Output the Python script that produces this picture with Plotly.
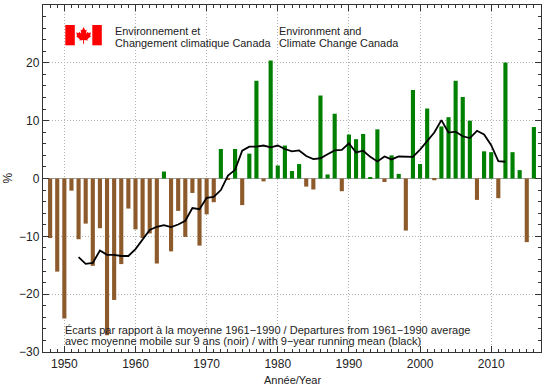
import plotly.graph_objects as go

years = list(range(1948, 2017))
departures = [-10.3, -16.1, -24.2, -2.1, -10.5, -7.8, -15.1, -8.6, -27.1, -21.0, -14.8, -5.2,
              -8.8, -10.3, -9.5, -14.7, 1.2, -12.6, -5.6, -10.1, -2.5, -11.6, -6.2, -4.1,
              5.1, -0.1, 5.1, -4.6, 4.3, 16.9, -0.5, 20.4, 2.25, 5.7, 1.3, 2.5, -1.4, -1.9,
              14.35, 0.7, 11.2, -2.2, 7.6, 6.8, 7.7, 0.25, 8.5, -0.6, 4.0, 0.8, -9.0, 15.3,
              2.5, 12.1, -0.3, 9.0, 10.6, 16.9, 14.1, 10.0, -3.7, 4.7, 4.55, -3.4, 20.05,
              4.55, 1.45, -11.0, 8.9]
mean_years = list(range(1952, 2013))
running_mean = [-13.6, -14.75, -14.6, -12.45, -13.2, -13.2, -13.4, -13.4, -12.2, -10.5, -8.9,
                -8.35, -8.05, -8.4, -7.95, -7.3, -5.1, -5.3, -3.35, -3.2, -2.0, 0.5, 1.5, 4.8,
                5.5, 5.5, 5.7, 5.4, 5.7, 5.1, 4.7, 4.85, 3.9, 3.35, 3.5, 4.2, 4.85, 4.95, 6.1,
                4.5, 4.8, 3.75, 2.95, 3.8, 3.3, 3.8, 3.75, 3.75, 5.0, 6.45, 7.95, 10.1, 7.95,
                8.1, 7.3, 7.0, 8.25, 7.6, 5.75, 3.0, 2.9]
y_ticks = [-30, -20, -10, 0, 10, 20, 30]
y_labels = ["\u221230", "\u221220", "\u221210", "0", "10", "20", "30"]
x_ticks = [1950, 1960, 1970, 1980, 1990, 2000, 2010]
x_minor_ticks = list(range(1948, 2017))
y_minor_ticks = list(range(-30, 31, 2))

W, H = 544, 385
L, R, T, B = 43, 541, 5, 352
FONT = "Liberation Sans, Arial, sans-serif"
TXT = "#222222"
AXC = "#333333"


def px(x):
    return (x - L) / (R - L)


def py(y):
    return (B - y) / (B - T)


fig = go.Figure()
fig.add_bar(x=years, y=departures, width=0.58,
            marker=dict(color=["#008000" if v >= 0 else "#8c5a2b" for v in departures],
                        line=dict(width=0)))
fig.add_scatter(x=mean_years, y=running_mean, mode="lines",
                line=dict(color="black", width=1.8))

axis = dict(showline=True, linecolor=AXC, linewidth=1.3, mirror="allticks", ticks="inside",
            ticklen=6, tickcolor=AXC, tickwidth=1.2, showgrid=True, gridcolor="#b0b0b0",
            griddash="1px,2px", gridwidth=1, tickfont=dict(family=FONT, size=12, color=TXT),
            automargin=False)
fig.update_layout(
    width=W, height=H, margin=dict(l=L, r=W - R, t=T, b=H - B),
    paper_bgcolor="white", plot_bgcolor="white", showlegend=False,
    font=dict(family=FONT, color=TXT),
    xaxis=dict(axis, range=[1947, 2017], tickvals=x_ticks, zeroline=False,
               minor=dict(tickvals=x_minor_ticks, ticks="inside", ticklen=3,
                          tickcolor=AXC, tickwidth=1, showgrid=False)),
    yaxis=dict(axis, range=[-30, 30], tickvals=y_ticks, ticktext=y_labels,
               zeroline=True, zerolinecolor="#a0a0a0", zerolinewidth=1.2,
               minor=dict(tickvals=y_minor_ticks, ticks="inside", ticklen=3,
                          tickcolor=AXC, tickwidth=1, showgrid=False)),
)

notes = [
    (115, 31, 10.9, "Environnement et"),
    (115, 43, 10.9, "Changement climatique Canada"),
    (279, 31, 10.9, "Environment and"),
    (279, 43, 10.9, "Climate Change Canada"),
    (65, 329.5, 11, "Écarts par rapport à la moyenne 1961\u22121990 / Departures from 1961\u22121990 average"),
    (65, 341, 11, "avec moyenne mobile sur 9 ans (noir) / with 9\u2212year running mean (black)"),
    (292, 380, 11, "Année/Year"),
]
for x, y, s, t in notes:
    fig.add_annotation(x=px(x), y=py(y), xref="paper", yref="paper", text=t, showarrow=False,
                       xanchor="center" if t.startswith("Ann") else "left", yanchor="middle",
                       font=dict(family=FONT, size=s, color=TXT), borderpad=0, borderwidth=0)
fig.add_annotation(x=px(7), y=py(178.5), xref="paper", yref="paper", text="%", showarrow=False,
                   xanchor="center", yanchor="middle",
                   textangle=-90, font=dict(family=FONT, size=12, color=TXT), borderpad=0)

# flag
RED = "#ff0000"
for a, b in [(65.3, 74.8), (92.3, 101.8)]:
    fig.add_shape(type="rect", xref="paper", yref="paper", x0=px(a), x1=px(b), y0=py(25), y1=py(45.3),
                  fillcolor=RED, line_width=0, layer="above")
half = [(0, -8.2), (1.6, -5), (3, -5.8), (2.4, -1.5), (4.2, -3.4), (4.8, -2.2), (7.4, -2.6),
        (6.5, 0.3), (7.4, 1), (3.8, 4), (4.2, 5.3), (0.5, 4.7), (0.5, 8.5)]
pts = half + [(-a, b) for a, b in reversed(half)]
cx, cy = 83.6, 35.2
path = "M" + " L".join(f"{px(cx + a):.5f},{py(cy + b):.5f}" for a, b in pts) + " Z"
fig.add_shape(type="path", xref="paper", yref="paper", path=path, fillcolor=RED, line_width=0, layer="above")

fig.write_html("out.html", config={"displayModeBar": False},
               post_script="document.body.style.margin='0';window.dispatchEvent(new Event('resize'));")
